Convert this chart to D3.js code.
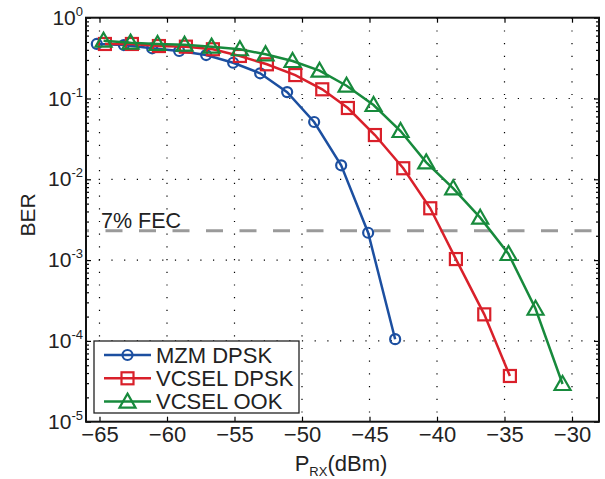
<!DOCTYPE html>
<html>
<head>
<meta charset="utf-8">
<script src="https://cdn.jsdelivr.net/npm/d3@7"></script>
<style>
body { margin: 0; background: #fff; }
svg { font-family: Arial, "Liberation Sans", sans-serif; }
.grid line { stroke: #000; stroke-width: 1.2; stroke-dasharray: 1.2, 11.5; }
</style>
</head>
<body>
<svg width="605" height="479"></svg>
<script>
// data
const mzmX = [-65.2, -63.2, -61.1, -59.1, -57.1, -55.1, -53.1, -51.1, -49.1, -47.1, -45.1, -43.1]
const mzmBer = [0.473, 0.459, 0.418, 0.387, 0.345, 0.277, 0.205, 0.120, 0.0512, 0.0149, 2.18e-3, 1.05e-4]

const vdX = [-64.6, -62.6, -60.6, -58.6, -56.6, -54.6, -52.6, -50.5, -48.5, -46.6, -44.6, -42.5, -40.5, -38.6, -36.5, -34.6]
const vdBer = [0.473, 0.473, 0.446, 0.438, 0.407, 0.336, 0.265, 0.195, 0.130, 0.0763, 0.0353, 0.0137, 4.38e-3, 1.03e-3, 2.13e-4, 3.68e-5]

const ookX = [-64.7, -62.7, -60.7, -58.7, -56.7, -54.6, -52.7, -50.7, -48.7, -46.7, -44.7, -42.7, -40.8, -38.8, -36.8, -34.7, -32.7, -30.7]
const ookBer = [0.519, 0.491, 0.473, 0.463, 0.438, 0.407, 0.352, 0.291, 0.221, 0.144, 0.0831, 0.0396, 0.0162, 7.74e-3, 3.35e-3, 1.19e-3, 2.50e-4, 2.93e-5]

const xTicks = [-65, -60, -55, -50, -45, -40, -35, -30]
const yExp = [0, -1, -2, -3, -4, -5]
const fec = 2.3e-3

const series = [
	{name: "MZM DPSK", xs: mzmX, ys: mzmBer, color: "#1c4fa0", marker: "circle"},
	{name: "VCSEL DPSK", xs: vdX, ys: vdBer, color: "#d9202a", marker: "square"},
	{name: "VCSEL OOK", xs: ookX, ys: ookBer, color: "#178a3c", marker: "triangle"}
]

const svg = d3.select("svg")
const L = 86, R = 599, T = 17.7, B = 421.7

const x = d3.scaleLinear().domain([-66, -28]).range([L, R])
const y = d3.scaleLog().domain([1e-5, 1]).range([B, T])

// grid
const grid = svg.append("g").attr("class", "grid")
grid.selectAll("line.v")
	.data(xTicks)
	.enter()
	.append("line")
	.attr("x1", d => x(d)).attr("x2", d => x(d))
	.attr("y1", T).attr("y2", B)
grid.selectAll("line.h")
	.data(yExp.slice(1, 5))
	.enter()
	.append("line")
	.attr("x1", L).attr("x2", R)
	.attr("y1", d => y(Math.pow(10, d))).attr("y2", d => y(Math.pow(10, d)))

// FEC threshold
svg.append("line")
	.attr("x1", L).attr("x2", R)
	.attr("y1", y(fec)).attr("y2", y(fec))
	.attr("stroke", "#9a9a9a")
	.attr("stroke-width", 3)
	.attr("stroke-dasharray", "17,16.5")
	.attr("stroke-dashoffset", 14)

svg.append("text")
	.attr("x", 101)
	.attr("y", y(fec) - 3)
	.style("font-size", "21.5px")
	.attr("fill", "#222")
	.text("7% FEC")

// axes
const axBottom = d3.axisBottom(x).tickValues(xTicks).tickSizeInner(-5).tickSizeOuter(0)
	.tickFormat(d => "\u2212" + Math.abs(d))
const gx = svg.append("g").attr("transform", `translate(0,${B})`).call(axBottom)
gx.selectAll("text").style("font-size", "22px").attr("fill", "#222").attr("dy", "0.8em")
const gxTop = svg.append("g").attr("transform", `translate(0,${T})`)
	.call(d3.axisTop(x).tickValues(xTicks).tickSizeInner(-5).tickSizeOuter(0).tickFormat(""))

const minor = []
for (let e = -5; e < 0; e++) {
	for (let m = 2; m < 10; m++) minor.push(m * Math.pow(10, e))
}
const gy = svg.append("g").attr("transform", `translate(${L},0)`)
	.call(d3.axisLeft(y).tickValues(yExp.map(e => Math.pow(10, e))).tickSizeInner(-5).tickSizeOuter(0).tickFormat(""))
const gy2 = svg.append("g").attr("transform", `translate(${R},0)`)
	.call(d3.axisRight(y).tickValues(yExp.map(e => Math.pow(10, e))).tickSizeInner(-5).tickSizeOuter(0).tickFormat(""))
svg.append("g").attr("transform", `translate(${L},0)`)
	.call(d3.axisLeft(y).tickValues(minor).tickSizeInner(-3).tickSizeOuter(0).tickFormat(""))
svg.append("g").attr("transform", `translate(${R},0)`)
	.call(d3.axisRight(y).tickValues(minor).tickSizeInner(-3).tickSizeOuter(0).tickFormat(""))
svg.selectAll(".domain").remove()
svg.selectAll(".tick line").attr("stroke", "#000").attr("stroke-width", 1.2)

// y labels 10^n
const yl = svg.append("g")
	.selectAll("text")
	.data(yExp)
	.enter()
	.append("text")
	.attr("x", 83)
	.attr("y", d => y(Math.pow(10, d)) + 7)
	.attr("text-anchor", "end")
	.attr("fill", "#222")
	.style("font-size", "21px")
yl.append("tspan").text("10")
yl.append("tspan").attr("dy", -9).style("font-size", "13px").text(d => d == 0 ? "0" : "-" + Math.abs(d))

// frame
svg.append("rect")
	.attr("x", L).attr("y", T)
	.attr("width", R - L).attr("height", B - T)
	.attr("fill", "none").attr("stroke", "#111").attr("stroke-width", 2)

// series
const line = d3.line().x(d => x(d[0])).y(d => y(d[1]))

function drawMarker(g, type, color) {
	if (type == "circle") {
		g.append("circle").attr("r", 5).attr("fill", "none").attr("stroke", color).attr("stroke-width", 2.2)
	} else if (type == "square") {
		g.append("rect").attr("x", -6).attr("y", -6).attr("width", 12).attr("height", 12)
			.attr("fill", "none").attr("stroke", color).attr("stroke-width", 2.2)
	} else {
		g.append("path").attr("d", "M0,-8L8,6L-8,6Z")
			.attr("fill", "none").attr("stroke", color).attr("stroke-width", 2.2)
	}
}

series.forEach(s => {
	const pts = s.xs.map((v, i) => [v, s.ys[i]])
	svg.append("path")
		.datum(pts)
		.attr("d", line)
		.attr("fill", "none")
		.attr("stroke", s.color)
		.attr("stroke-width", 2.5)
	svg.selectAll(null)
		.data(pts)
		.enter()
		.append("g")
		.attr("transform", d => `translate(${x(d[0])},${y(d[1])})`)
		.each(function () { drawMarker(d3.select(this), s.marker, s.color) })
})

// legend
const leg = svg.append("g")
leg.append("rect")
	.attr("x", 94).attr("y", 341)
	.attr("width", 205).attr("height", 72)
	.attr("fill", "#fff").attr("stroke", "#222").attr("stroke-width", 1.3)
series.forEach((s, i) => {
	const ly = 355 + i * 23.3
	leg.append("line")
		.attr("x1", 104).attr("x2", 151)
		.attr("y1", ly).attr("y2", ly)
		.attr("stroke", s.color).attr("stroke-width", 2.5)
	const m = leg.append("g").attr("transform", `translate(127.5,${ly})`)
	drawMarker(m, s.marker, s.color)
	leg.append("text")
		.attr("x", 156).attr("y", ly + 7.5)
		.attr("fill", "#222")
		.style("font-size", "22px")
		.text(s.name)
})

// axis titles
svg.append("text")
	.attr("transform", "translate(35,215) rotate(-90)")
	.attr("text-anchor", "middle")
	.attr("fill", "#222")
	.style("font-size", "21px")
	.text("BER")

const xt = svg.append("text")
	.attr("x", 341).attr("y", 471)
	.attr("text-anchor", "middle")
	.attr("fill", "#222")
	.style("font-size", "22px")
xt.append("tspan").text("P")
xt.append("tspan").attr("dy", 5).style("font-size", "13px").text("RX")
xt.append("tspan").attr("dy", -5).text("(dBm)")
</script>
</body>
</html>
